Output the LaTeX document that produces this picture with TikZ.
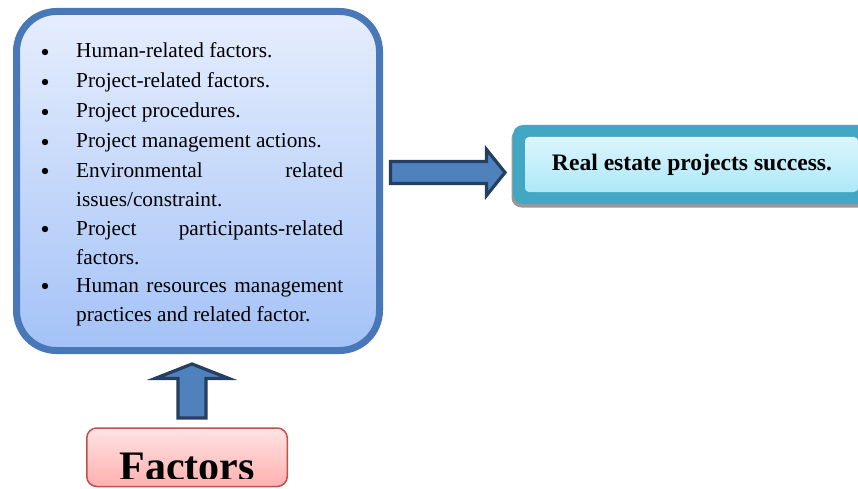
\documentclass[tikz,border=0pt]{standalone}
\usepackage{fontspec}
\setmainfont{Liberation Serif}
\begin{document}
\begin{tikzpicture}[x=1pt,y=-1pt,
  bigbox/.style={draw=bluebd,line width=7pt,rounded corners=40pt,top color=bigtop,bottom color=bigbot,minimum width=363pt,minimum height=339pt,inner sep=0pt},
  line/.style={anchor=base west,inner sep=0pt,font=\fontsize{21.3}{25}\selectfont},
  blt/.style={fill=black},
  blockarrow/.style={draw=arrbd,fill=arrfill,line width=3.2pt,line join=miter},
  succouter/.style={fill=teal1,rounded corners=10pt,minimum width=357pt,minimum height=79pt,inner sep=0pt},
  succinner/.style={top color=succtop,bottom color=succbot,rounded corners=4pt,minimum width=333pt,minimum height=55pt,inner sep=0pt},
  shadowbox/.style={fill=black!40,rounded corners=10pt,minimum width=357pt,minimum height=79pt,inner sep=0pt},
  factbox/.style={draw=redbd,line width=1.5pt,rounded corners=10pt,top color=facttop,bottom color=factbot,minimum width=200.5pt,minimum height=58.5pt,inner sep=0pt}
]
\definecolor{bluebd}{HTML}{4878B8}
\definecolor{bigtop}{HTML}{E6EEFD}
\definecolor{bigbot}{HTML}{A4C2F7}
\definecolor{arrbd}{HTML}{243F60}
\definecolor{arrfill}{HTML}{4F81BD}
\definecolor{teal1}{HTML}{42A7C3}
\definecolor{succtop}{HTML}{DCF6FD}
\definecolor{succbot}{HTML}{ADE8F9}
\definecolor{redbd}{HTML}{C0504D}
\definecolor{facttop}{HTML}{FFE3E3}
\definecolor{factbot}{HTML}{FFB0B0}
\useasboundingbox (0,0) rectangle (858,489);
\clip (0,0) rectangle (858,489);
% big box
\node[bigbox] (big) at (198,181) {};
\node[line] (l1) at (76,58) {Human-related factors.};
\node[line] (l2) at (76,88) {Project-related factors.};
\node[line] (l3) at (76,118) {Project procedures.};
\node[line] (l4) at (76,148) {Project management actions.};
\node[line] (l5) at (76,177) {\makebox[267pt][s]{Environmental related}};
\node[line] (l6) at (76,206) {issues/constraint.};
\node[line] (l7) at (76,235) {\makebox[267pt][s]{Project participants-related}};
\node[line] (l8) at (76,264) {factors.};
\node[line] (l9) at (76,292) {\makebox[267pt][s]{Human resources management}};
\node[line] (l10) at (76,321) {practices and related factor.};
\foreach \y in {52,82,112,142,171,229,286}{\fill[blt] (45,\y) circle (3.2pt);}
% success box
\node[shadowbox] (shadow) at (690,168) {};
\node[succouter] (succ) at (691.5,164.5) {};
\node[succinner] (succin) at (691.5,164.5) {};
\node[font=\bfseries\fontsize{23.6}{27}\selectfont,anchor=base] (succt) at (692,170) {Real estate projects success.};
% right arrow
\draw[blockarrow] (390.5,161.5) -- (486.5,161.5) -- (486.5,149.5) -- (505,172.5) -- (486.5,195.5) -- (486.5,183.5) -- (390.5,183.5) -- cycle;
% factors box
\node[factbox] (fact) at (187,457.25) {};
\begin{scope}
\clip (80,420) rectangle (300,478);
\node[font=\bfseries\fontsize{42}{48}\selectfont,anchor=base] (factt) at (187,480) {Factors};
\end{scope}
% up arrow
\draw[blockarrow] (178,418) -- (178,378.5) -- (155,378.5) -- (192,364) -- (229,378.5) -- (206,378.5) -- (206,418) -- cycle;
\end{tikzpicture}
\end{document}
